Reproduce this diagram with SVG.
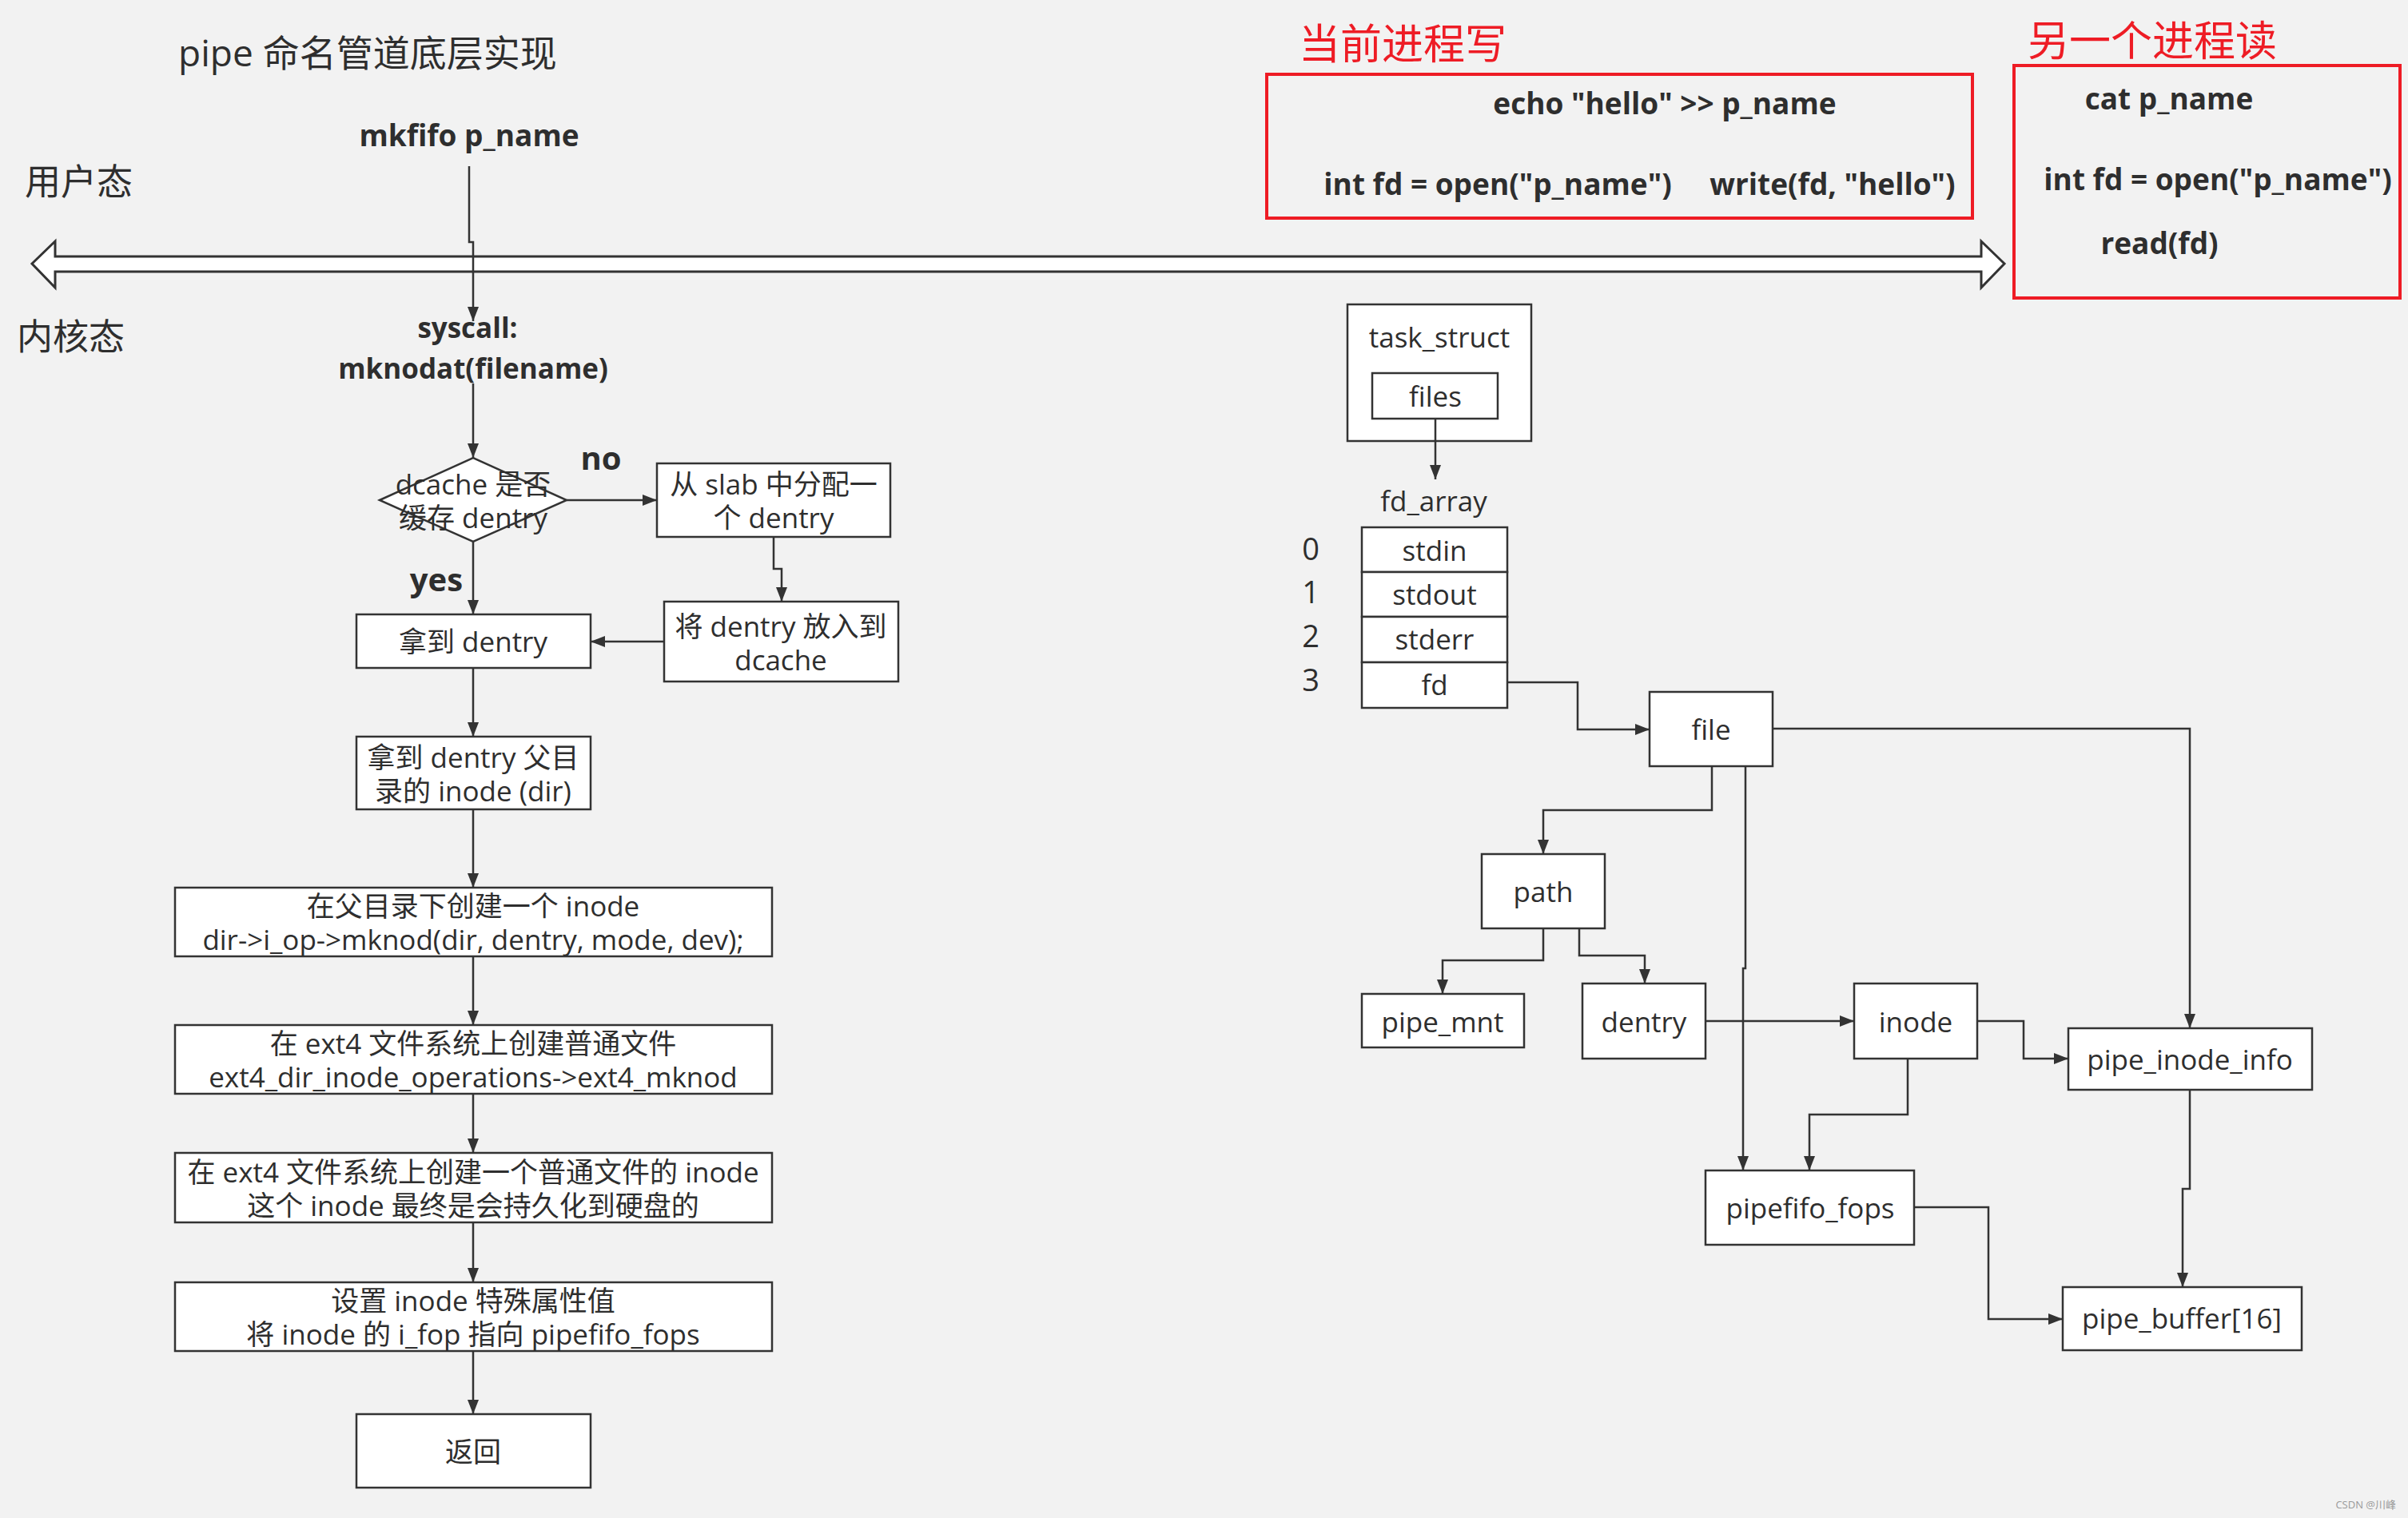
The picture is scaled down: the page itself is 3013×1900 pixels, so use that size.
<svg xmlns="http://www.w3.org/2000/svg" width="3013" height="1900" viewBox="0 0 3013 1900">
<style>
text{font-family:"Open Sans","Noto Sans CJK SC",sans-serif;fill:#2e2e2e}
.t{font-size:35px;text-anchor:middle;dominant-baseline:central}
.b{font-size:37px;font-weight:bold;text-anchor:middle}
.lab{font-size:45px}
.red{font-family:"Noto Sans CJK SC",sans-serif;font-size:52px;fill:#ee1c25}
.num{font-size:38px;text-anchor:middle;dominant-baseline:central}
.box{fill:#fff;stroke:#333;stroke-width:2.5}
.rbox{fill:none;stroke:#ee1c25;stroke-width:4}
.ln{fill:none;stroke:#333;stroke-width:2.5}
</style>
<defs>
<marker id="ah" markerUnits="userSpaceOnUse" markerWidth="20" markerHeight="14" refX="18" refY="7" orient="auto">
<path d="M0,0 L18,7 L0,14 z" fill="#333"/>
</marker>
</defs>
<rect width="3013" height="1900" fill="#f2f2f2"/>

<!-- headings -->
<text x="223" y="83" style="font-size:46px">pipe 命名管道底层实现</text>
<text x="31" y="244" class="lab">用户态</text>
<text x="21" y="438" class="lab">内核态</text>
<text x="587" y="183" class="b">mkfifo p_name</text>
<text x="585" y="423" class="b" style="font-size:35px">syscall:</text>
<text x="592" y="474" class="b" style="font-size:35px">mknodat(filename)</text>
<text x="752" y="588" class="b" style="font-size:40px">no</text>
<text x="546" y="740" class="b" style="font-size:40px">yes</text>

<!-- user/kernel double arrow -->
<polygon points="40,330 69,302 69,321 2479,321 2479,302 2508,330 2479,360 2479,340 69,340 69,360" fill="#fff" stroke="#333" stroke-width="3"/>

<!-- red boxes -->
<text x="1625" y="74" class="red">当前进程写</text>
<text x="2537" y="70" class="red">另一个进程读</text>
<rect x="1585" y="93" width="883" height="180" class="rbox"/>
<rect x="2520" y="82" width="483" height="291" class="rbox"/>
<text x="2083" y="143" class="b">echo "hello" &gt;&gt; p_name</text>
<text x="1874" y="244" class="b">int fd = open("p_name")</text>
<text x="2293" y="244" class="b">write(fd, "hello")</text>
<text x="2714" y="137" class="b">cat p_name</text>
<text x="2775" y="238" class="b">int fd = open("p_name")</text>
<text x="2702" y="318" class="b">read(fd)</text>

<!-- left flow nodes -->
<g id="decision">
<polygon points="475,626 592,573 709,626 592,678" class="box"/>
<text x="592" y="605" class="t">dcache 是否</text>
<text x="592" y="647" class="t">缓存 dentry</text>
</g>
<g id="alloc">
<rect x="822" y="580" width="292" height="92" class="box"/>
<text x="968" y="605" class="t">从 slab 中分配一</text>
<text x="968" y="647" class="t">个 dentry</text>
</g>
<g id="putcache">
<rect x="831" y="753" width="293" height="100" class="box"/>
<text x="977" y="783" class="t">将 dentry 放入到</text>
<text x="977" y="825" class="t">dcache</text>
</g>
<g id="getdentry">
<rect x="446" y="769" width="293" height="67" class="box"/>
<text x="592" y="802" class="t">拿到 dentry</text>
</g>
<g id="getparent">
<rect x="446" y="922" width="293" height="91" class="box"/>
<text x="592" y="947" class="t">拿到 dentry 父目</text>
<text x="592" y="989" class="t">录的 inode (dir)</text>
</g>
<g id="mknod">
<rect x="219" y="1111" width="747" height="86" class="box"/>
<text x="592" y="1133" class="t">在父目录下创建一个 inode</text>
<text x="592" y="1175" class="t">dir-&gt;i_op-&gt;mknod(dir, dentry, mode, dev);</text>
</g>
<g id="ext4mknod">
<rect x="219" y="1283" width="747" height="86" class="box"/>
<text x="592" y="1305" class="t">在 ext4 文件系统上创建普通文件</text>
<text x="592" y="1347" class="t">ext4_dir_inode_operations-&gt;ext4_mknod</text>
</g>
<g id="ext4inode">
<rect x="219" y="1443" width="747" height="87" class="box"/>
<text x="592" y="1466" class="t">在 ext4 文件系统上创建一个普通文件的 inode</text>
<text x="592" y="1508" class="t">这个 inode 最终是会持久化到硬盘的</text>
</g>
<g id="setattr">
<rect x="219" y="1605" width="747" height="86" class="box"/>
<text x="592" y="1627" class="t">设置 inode 特殊属性值</text>
<text x="592" y="1669" class="t">将 inode 的 i_fop 指向 pipefifo_fops</text>
</g>
<g id="ret">
<rect x="446" y="1770" width="293" height="92" class="box"/>
<text x="592" y="1816" class="t">返回</text>
</g>

<!-- right side nodes -->
<g id="task_struct">
<rect x="1686" y="381" width="230" height="171" class="box"/>
<text x="1801" y="421" class="t">task_struct</text>
<rect x="1717" y="467" width="157" height="57" class="box"/>
<text x="1796" y="495" class="t">files</text>
</g>
<g id="fd_array">
<text x="1794" y="626" class="t">fd_array</text>
<rect x="1704" y="660" width="182" height="56" class="box"/>
<rect x="1704" y="716" width="182" height="56" class="box"/>
<rect x="1704" y="772" width="182" height="57" class="box"/>
<rect x="1704" y="829" width="182" height="57" class="box"/>
<text x="1795" y="688" class="t">stdin</text>
<text x="1795" y="743" class="t">stdout</text>
<text x="1795" y="799" class="t">stderr</text>
<text x="1795" y="856" class="t">fd</text>
<text x="1640" y="686" class="num">0</text>
<text x="1640" y="740" class="num">1</text>
<text x="1640" y="795" class="num">2</text>
<text x="1640" y="850" class="num">3</text>
</g>
<g id="file">
<rect x="2064" y="866" width="154" height="93" class="box"/>
<text x="2141" y="912" class="t">file</text>
</g>
<g id="path">
<rect x="1854" y="1069" width="154" height="93" class="box"/>
<text x="1931" y="1115" class="t">path</text>
</g>
<g id="pipe_mnt">
<rect x="1704" y="1244" width="203" height="67" class="box"/>
<text x="1805" y="1278" class="t">pipe_mnt</text>
</g>
<g id="dentry">
<rect x="1980" y="1231" width="154" height="94" class="box"/>
<text x="2057" y="1278" class="t">dentry</text>
</g>
<g id="inode">
<rect x="2320" y="1231" width="154" height="94" class="box"/>
<text x="2397" y="1278" class="t">inode</text>
</g>
<g id="pipefifo_fops">
<rect x="2134" y="1465" width="261" height="93" class="box"/>
<text x="2265" y="1511" class="t">pipefifo_fops</text>
</g>
<g id="pipe_inode_info">
<rect x="2588" y="1287" width="305" height="77" class="box"/>
<text x="2740" y="1325" class="t">pipe_inode_info</text>
</g>
<g id="pipe_buffer">
<rect x="2581" y="1611" width="299" height="79" class="box"/>
<text x="2730" y="1649" class="t">pipe_buffer[16]</text>
</g>

<!-- connectors -->
<g id="connectors" class="ln">
<path class="ln" d="M587,208 V303 H592 V402" marker-end="url(#ah)"/>
<path class="ln" d="M592,480 V573" marker-end="url(#ah)"/>
<path class="ln" d="M709,626 H822" marker-end="url(#ah)"/>
<path class="ln" d="M968,672 V712 H978 V753" marker-end="url(#ah)"/>
<path class="ln" d="M831,803 H739" marker-end="url(#ah)"/>
<path class="ln" d="M592,678 V769" marker-end="url(#ah)"/>
<path class="ln" d="M592,836 V922" marker-end="url(#ah)"/>
<path class="ln" d="M592,1013 V1111" marker-end="url(#ah)"/>
<path class="ln" d="M592,1197 V1283" marker-end="url(#ah)"/>
<path class="ln" d="M592,1369 V1443" marker-end="url(#ah)"/>
<path class="ln" d="M592,1530 V1605" marker-end="url(#ah)"/>
<path class="ln" d="M592,1691 V1770" marker-end="url(#ah)"/>

<path class="ln" d="M1796,524 V600" marker-end="url(#ah)"/>
<path class="ln" d="M1886,854 H1974 V913 H2064" marker-end="url(#ah)"/>
<path class="ln" d="M2218,912 H2740 V1287" marker-end="url(#ah)"/>
<path class="ln" d="M2142,959 V1014 H1931 V1069" marker-end="url(#ah)"/>
<path class="ln" d="M2184,959 V1212 H2181 V1465" marker-end="url(#ah)"/>
<path class="ln" d="M1931,1162 V1202 H1805 V1244" marker-end="url(#ah)"/>
<path class="ln" d="M1976,1162 V1196 H2058 V1231" marker-end="url(#ah)"/>
<path class="ln" d="M2134,1278 H2320" marker-end="url(#ah)"/>
<path class="ln" d="M2474,1278 H2532 V1325 H2588" marker-end="url(#ah)"/>
<path class="ln" d="M2387,1325 V1395 H2264 V1465" marker-end="url(#ah)"/>
<path class="ln" d="M2395,1511 H2488 V1651 H2581" marker-end="url(#ah)"/>
<path class="ln" d="M2740,1364 V1488 H2731 V1611" marker-end="url(#ah)"/>
</g>

<text x="2998" y="1888" style="font-size:13px;fill:#999;text-anchor:end">CSDN @川峰</text>
</svg>
